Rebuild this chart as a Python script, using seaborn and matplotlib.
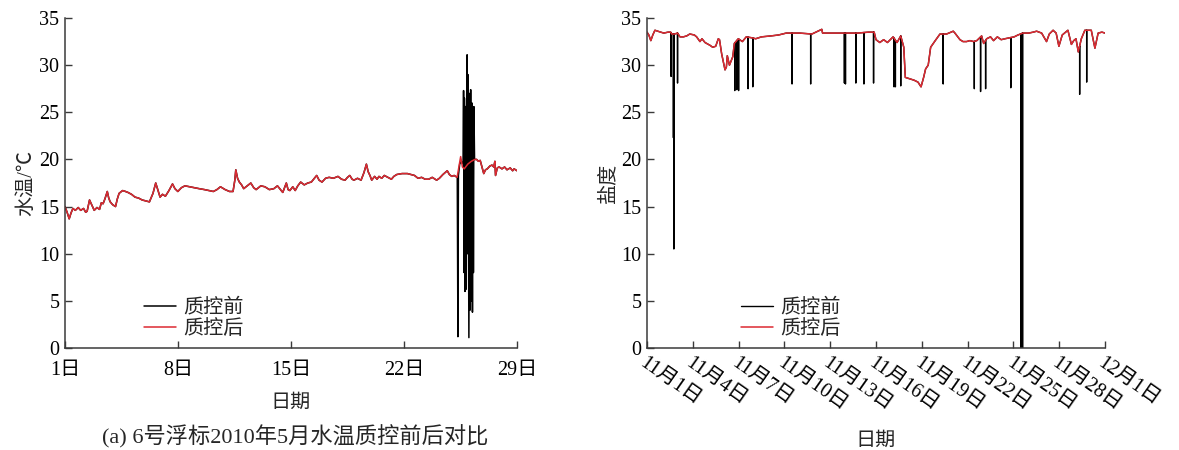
import numpy as np
import pandas as pd
import matplotlib
matplotlib.use("Agg")
import matplotlib.pyplot as plt
import seaborn as sns

# ---------------- data: (a) water temperature, May 2010 ----------------
temp_day = [1.00, 1.13, 1.26, 1.37, 1.49, 1.64, 1.82, 1.97, 2.15, 2.28, 2.37, 2.52, 2.65, 2.81, 2.98,
            3.14, 3.25, 3.36, 3.47, 3.62, 3.71, 3.80, 3.95, 4.13, 4.24, 4.35, 4.57, 4.75, 4.90, 5.12,
            5.34, 5.56, 5.78, 6.00, 6.23, 6.45, 6.62, 6.73, 6.89, 7.04, 7.22, 7.44, 7.66, 7.81, 7.99,
            8.21, 8.43, 8.72, 8.98, 9.31, 9.64, 9.93, 10.19, 10.41, 10.63, 10.92, 11.19, 11.41, 11.52,
            11.58, 11.69, 11.80, 11.94, 12.07, 12.29, 12.51, 12.69, 12.84, 13.13, 13.38, 13.66, 13.94,
            14.16, 14.49, 14.71, 14.82, 14.93, 15.11, 15.26, 15.42, 15.60, 15.82, 16.04, 16.26, 16.59,
            16.74, 16.92, 17.14, 17.36, 17.62, 17.91, 18.13, 18.35, 18.50, 18.64, 18.79, 18.90, 19.12,
            19.34, 19.52, 19.67, 19.78, 19.89, 20.00, 20.18, 20.33, 20.45, 20.62, 20.78, 21.00, 21.22,
            21.37, 21.55, 21.88, 22.21, 22.43, 22.65, 22.87, 23.09, 23.31, 23.53, 23.75, 24.02, 24.19,
            24.41, 24.68, 24.81, 24.96, 25.11, 25.29, 25.40, 25.51, 25.62, 25.73, 25.95, 26.17, 26.39,
            26.50, 26.61, 26.72, 26.83, 26.94, 27.05, 27.16, 27.32, 27.45, 27.56, 27.63, 27.67, 27.78,
            27.89, 28.07, 28.23, 28.38, 28.58, 28.73, 28.82, 29.00]
temp_after = [15.0, 14.4, 13.7, 14.3, 14.8, 14.6, 14.9, 14.6, 14.8, 14.4, 14.5, 15.7, 15.2, 14.6, 14.9,
              14.7, 15.4, 15.3, 15.8, 16.6, 15.9, 15.5, 15.2, 15.0, 15.8, 16.4, 16.7, 16.6, 16.5, 16.3,
              16.0, 15.9, 15.7, 15.6, 15.5, 16.4, 17.5, 16.9, 16.0, 16.3, 16.1, 16.7, 17.4, 16.9, 16.6,
              17.0, 17.2, 17.1, 17.0, 16.9, 16.8, 16.7, 16.6, 16.8, 17.1, 16.8, 16.6, 16.6, 17.8,
              18.9, 18.0, 17.6, 17.3, 16.9, 17.2, 17.5, 17.0, 16.8, 17.2, 17.1, 16.8, 16.9,
              17.2, 16.5, 17.5, 16.8, 16.7, 17.1, 16.7, 17.2, 17.6, 17.3, 17.5, 17.6, 18.3,
              17.8, 17.6, 18.0, 18.1, 18.0, 18.2, 17.9, 17.8, 18.1, 18.3, 17.9, 17.8, 18.0,
              17.8, 18.6, 19.5, 18.7, 18.3, 17.8, 18.2, 17.9, 18.2, 18.0, 18.3, 18.1, 17.9,
              18.2, 18.4, 18.5, 18.5, 18.4, 18.3, 18.0, 18.1, 17.9, 17.9, 18.1, 17.8, 18.0,
              18.4, 18.8, 18.4, 18.2, 18.3, 18.1, 19.2, 20.3, 19.2, 19.0, 19.5, 19.8, 20.0,
              20.0, 19.8, 19.9, 19.2, 18.5, 18.9, 19.0, 19.3, 19.4, 19.2, 19.8, 18.3, 19.1,
              19.2, 19.0, 19.2, 18.9, 19.1, 18.8, 19.0, 18.8]
# raw (before QC) readings inside the faulty interval, elsewhere identical to QC'd data
raw_day = [25.30, 25.34, 25.37, 25.45, 25.55, 25.66, 25.69, 25.72, 25.74, 25.78, 25.81, 25.83, 25.85,
           25.88, 25.91, 25.94, 25.96, 26.02, 26.06, 26.08, 26.13, 26.17, 26.20, 26.24, 26.28, 26.30,
           26.33, 26.37, 26.40]
raw_temp = [18.2, 1.2, 18.3, 19.5, 19.8, 19.5, 27.3, 8.0, 26.5, 6.0, 25.6, 6.2, 25.6,
            25.7, 31.1, 10.0, 29.0, 1.1, 27.0, 4.0, 27.4, 5.0, 26.0, 3.8, 25.6, 8.0,
            25.6, 20.0, 20.0]
temp_xticks = [1, 8, 15, 22, 29]
temp_xlabels = ["1日", "8日", "15日", "22日", "29日"]

# ---------------- data: salinity, November ----------------
sal_day = [0.00, 0.12, 0.25, 0.38, 0.52, 0.70, 0.90, 1.10, 1.38, 1.55, 1.62, 1.80, 2.00, 2.16, 2.38,
           2.60, 2.80, 3.10, 3.25, 3.47, 3.60, 3.80, 4.13, 4.30, 4.50, 4.67, 4.75, 4.89, 5.11, 5.20,
           5.26, 5.40, 5.50, 5.62, 5.72, 5.98, 6.25, 6.50, 6.88, 7.12, 7.50, 8.12, 8.62, 9.12, 10.0,
           10.8, 11.45, 11.5, 12.2, 13.0, 13.8, 14.5, 14.88, 15.0, 15.25, 15.5, 15.75, 16.12, 16.38,
           16.62, 16.82, 16.92, 17.12, 17.5, 17.75, 17.95, 18.12, 18.25, 18.42, 18.58, 18.88, 19.19,
           19.62, 20.06, 20.17, 20.50, 20.70, 20.93, 21.15, 21.40, 21.60, 21.92, 22.05, 22.25, 22.50,
           22.70, 22.95, 23.20, 23.45, 23.75, 24.05, 24.30, 24.62, 25.00, 25.30, 25.52, 25.85, 26.17,
           26.35, 26.60, 26.80, 26.98, 27.20, 27.57, 27.80, 27.95, 28.10, 28.25, 28.45, 28.68, 29.10,
           29.34, 29.55, 29.80, 30.00]
sal_after = [33.5, 33.2, 32.6, 33.2, 33.7, 33.6, 33.5, 33.4, 33.5, 33.5, 33.3, 33.3, 33.4, 33.0, 33.0,
             33.1, 33.3, 33.2, 33.0, 32.5, 32.8, 32.4, 32.1, 31.9, 32.0, 32.8, 32.7, 31.2, 29.5, 29.8,
             31.0, 30.0, 30.4, 30.9, 32.3, 32.8, 32.5, 33.0, 32.9, 32.8, 33.0, 33.1, 33.2, 33.4, 33.4,
             33.3, 33.8, 33.4, 33.4, 33.4, 33.4, 33.5, 33.5, 32.7, 32.4, 32.7, 32.4, 33.0, 32.4,
             33.1, 31.9, 28.7, 28.6, 28.4, 28.2, 27.7, 28.7, 29.6, 30.0, 31.9, 32.6, 33.3,
             33.3, 33.6, 33.4, 32.7, 32.5, 32.5, 32.6, 32.5, 32.6, 33.1, 32.3, 32.8, 33.0,
             32.6, 33.0, 32.7, 32.8, 32.9, 33.0, 33.2, 33.4, 33.4, 33.5, 33.6, 33.4, 32.5,
             33.3, 33.7, 33.4, 32.0, 33.2, 33.7, 32.2, 32.6, 32.8, 31.4, 32.8, 33.7, 33.7,
             31.8, 33.4, 33.5, 33.4]
# spikes that exist only in the raw (before QC) salinity record
spike_day = [1.58, 1.73, 1.76, 2.00, 5.75, 5.88, 6.00, 6.62, 6.93, 9.50, 10.72, 12.93, 13.00, 13.68,
             14.21, 14.84, 16.18, 16.27, 16.62, 19.40, 21.44, 21.85, 22.18, 23.83, 24.48, 24.52,
             24.56, 24.60, 28.34, 28.80]
spike_val = [28.8, 22.3, 10.5, 28.1, 27.3, 27.4, 27.3, 27.5, 27.7, 28.0, 28.0, 28.1, 28.0, 28.1,
             28.0, 28.1, 27.7, 27.7, 27.8, 28.0, 27.5, 27.2, 27.5, 27.6, 0.0, 0.0,
             0.0, 0.0, 26.9, 28.2]
sal_xticks = [0, 3, 6, 9, 12, 15, 18, 21, 24, 27, 30]
sal_xlabels = ["11月1日", "11月4日", "11月7日", "11月10日", "11月13日", "11月16日",
               "11月19日", "11月22日", "11月25日", "11月28日", "12月1日"]

yticks = [0, 5, 10, 15, 20, 25, 30, 35]

# ---------------- build raw series ----------------
td = np.array(temp_day); tv = np.array(temp_after)
raw_t = np.concatenate([td[td < raw_day[0]], raw_day, td[td > raw_day[-1]]])
raw_v = np.concatenate([tv[td < raw_day[0]], raw_temp, tv[td > raw_day[-1]]])
df_temp_after = pd.DataFrame({"x": td, "y": tv})
df_temp_raw = pd.DataFrame({"x": raw_t, "y": raw_v})

sd = np.array(sal_day); sv = np.array(sal_after)
pts = list(zip(sd, sv))
for t, v in zip(spike_day, spike_val):
    base = float(np.interp(t, sd, sv))
    pts += [(t - 1e-4, base), (t, v), (t + 1e-4, base)]
pts.sort(key=lambda p: p[0])
df_sal_raw = pd.DataFrame(pts, columns=["x", "y"])
df_sal_after = pd.DataFrame({"x": sd, "y": sv})

# ---------------- style ----------------
sns.set_style("ticks")
plt.rcParams["font.family"] = ["Liberation Serif", "Noto Sans CJK SC", "DejaVu Sans"]
plt.rcParams["axes.unicode_minus"] = False
FS = 14.5
RED = "#dc2a32"
SPINE = "#3a3a3a"

fig = plt.figure(figsize=(11.79, 4.5), dpi=100)
W, H = 1179, 450
axL = fig.add_axes([65 / W, 1 - 348 / H, (517 - 65) / W, (348 - 18) / H])
axR = fig.add_axes([647 / W, 1 - 348 / H, (1105 - 647) / W, (348 - 18) / H])


def style_axes(ax):
    for s in ["top", "right"]:
        ax.spines[s].set_visible(False)
    for s in ["left", "bottom"]:
        ax.spines[s].set_color(SPINE)
        ax.spines[s].set_linewidth(1.1)
    ax.tick_params(direction="in", length=5, width=1.0, color=SPINE,
                   labelsize=FS, labelcolor="black", pad=4)
    ax.set_ylim(0, 35)
    ax.set_yticks(yticks)
    ax.set_yticklabels([str(v) for v in yticks])


# left panel
sns.lineplot(data=df_temp_raw, x="x", y="y", ax=axL, color="black", lw=1.1,
             sort=False, estimator=None, label="质控前")
sns.lineplot(data=df_temp_after, x="x", y="y", ax=axL, color=RED, lw=1.1,
             sort=False, estimator=None, label="质控后")
style_axes(axL)
axL.set_xlim(1, 29)
axL.set_xticks(temp_xticks)
axL.set_xticklabels(temp_xlabels)
axL.tick_params(axis="x", pad=9)
axL.set_xlabel("日期", fontsize=FS, labelpad=10)
axL.set_ylabel("水温/℃", fontsize=FS, labelpad=2)
axL.legend(loc="upper left", bbox_to_anchor=(0.175, 0.15), frameon=False, fontsize=FS,
           borderpad=0, borderaxespad=0, handlelength=1.6, handletextpad=0.35, labelspacing=0.1)
fig.text(295 / W, 1 - 437 / H, "(a) 6号浮标2010年5月水温质控前后对比", ha="center", va="center",
         fontsize=16)

# right panel
sns.lineplot(data=df_sal_raw, x="x", y="y", ax=axR, color="black", lw=1.0,
             sort=False, estimator=None, label="质控前")
sns.lineplot(data=df_sal_after, x="x", y="y", ax=axR, color=RED, lw=1.1,
             sort=False, estimator=None, label="质控后")
style_axes(axR)
axR.set_xlim(0, 30)
axR.set_xticks(sal_xticks)
axR.set_xticklabels(sal_xlabels, rotation=-35, ha="left", va="top", rotation_mode="anchor")
axR.set_xlabel("日期", fontsize=FS, labelpad=12)
axR.set_ylabel("盐度", fontsize=FS, labelpad=2)
axR.legend(loc="upper left", bbox_to_anchor=(0.205, 0.15), frameon=False, fontsize=FS,
           borderpad=0, borderaxespad=0, handlelength=1.6, handletextpad=0.35, labelspacing=0.1)

fig.savefig("out.png", dpi=100)
